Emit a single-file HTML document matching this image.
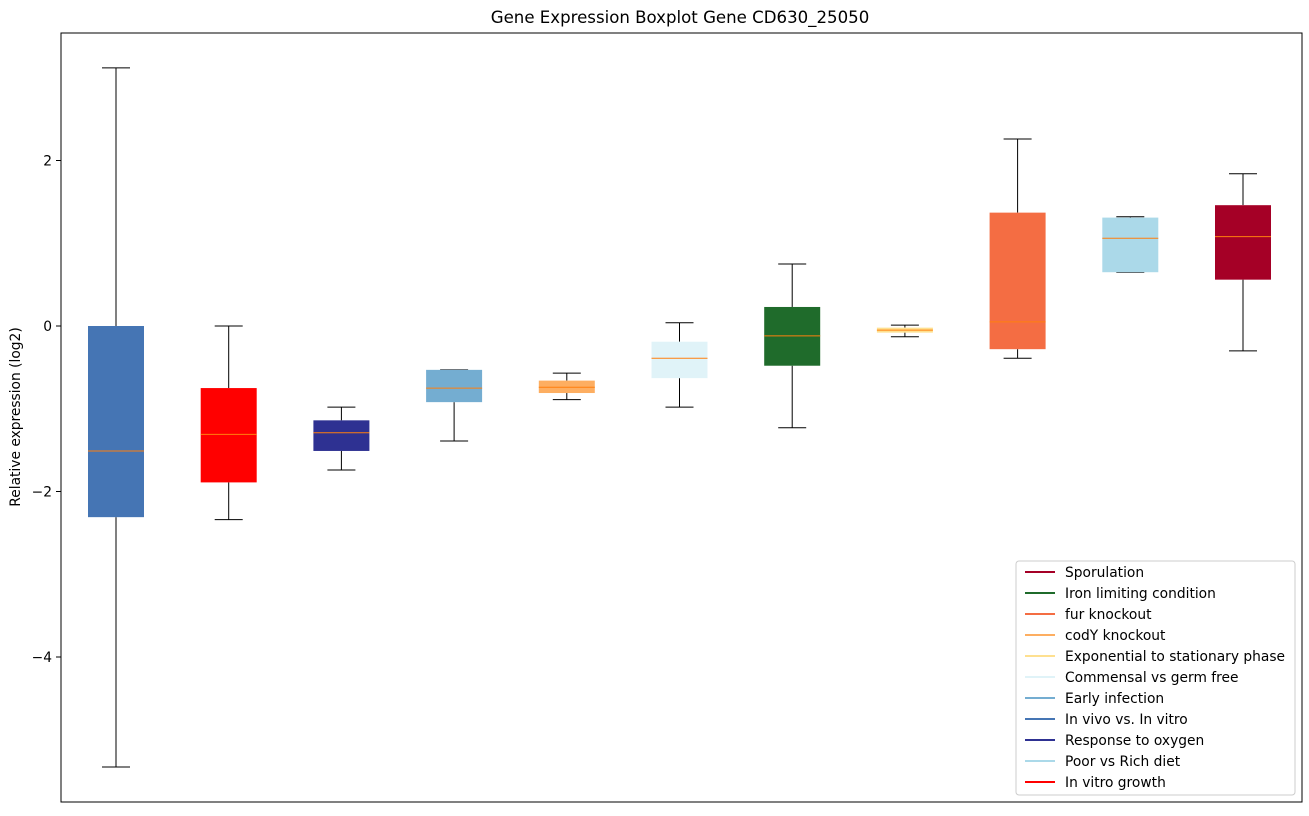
<!DOCTYPE html>
<html><head><meta charset="utf-8"><style>
body{margin:0;background:#fff;font-family:"DejaVu Sans","Liberation Sans",sans-serif;}
</style></head><body>
<svg id="chart" width="1309" height="812" xmlns="http://www.w3.org/2000/svg" font-family="DejaVu Sans, Liberation Sans, sans-serif">
<text x="680" y="23" font-size="16.6" text-anchor="middle">Gene Expression Boxplot Gene CD630_25050</text>
<text transform="translate(20,417) rotate(-90)" font-size="13.8" text-anchor="middle">Relative expression (log2)</text>
<g id="plot"></g>
<rect x="61" y="33" width="1241" height="769" fill="none" stroke="#000" stroke-width="1"/>
</svg>
<script>
const categories=["In vivo vs. In vitro","In vitro growth","Response to oxygen","Early infection","codY knockout","Commensal vs germ free","Iron limiting condition","Exponential to stationary phase","fur knockout","Poor vs Rich diet","Sporulation"];
const whiskerLow=[-5.33,-2.34,-1.74,-1.39,-0.89,-0.98,-1.23,-0.13,-0.39,0.65,-0.30];
const q1=[-2.31,-1.89,-1.51,-0.92,-0.81,-0.63,-0.48,-0.08,-0.28,0.65,0.56];
const medians=[-1.51,-1.31,-1.29,-0.75,-0.74,-0.39,-0.12,-0.05,0.05,1.06,1.08];
const q3=[0.0,-0.75,-1.14,-0.53,-0.66,-0.19,0.23,-0.02,1.37,1.31,1.46];
const whiskerHigh=[3.12,0.0,-0.98,-0.53,-0.57,0.04,0.75,0.01,2.26,1.32,1.84];
const colors=["#4575b4","#ff0000","#2e3192","#74add1","#fdae61","#e0f3f8","#1f6b2b","#fee090","#f46d43","#abd9e9","#a50026"];
const yTicks=[2,0,-2,-4];
const legendOrder=[10,6,8,4,7,5,3,0,2,9,1];
const NS="http://www.w3.org/2000/svg";
const g=document.getElementById('plot');
function y(v){return 326-v*82.75;}
function x(i){return 116+i*112.7;}
function mk(t,a){const e=document.createElementNS(NS,t);for(const k in a)e.setAttribute(k,a[k]);return e;}
yTicks.forEach(t=>{
 const l=mk('line',{x1:56,x2:61,y1:y(t),y2:y(t),stroke:'#000'});
 
 
 g.appendChild(l);
 const tx=mk('text',{x:52,y:y(t)+5,'font-size':13.8,'text-anchor':'end'});
 tx.textContent=t<0?'\u2212'+Math.abs(t):String(t);
 
 
 g.appendChild(tx);
});
categories.forEach((c,i)=>{
 const cx=x(i),w=56;
 const grp=mk('g',{});
 
 
 [[whiskerLow[i],q1[i]],[q3[i],whiskerHigh[i]]].forEach(p=>grp.appendChild(mk('line',{x1:cx,x2:cx,y1:y(p[0]),y2:y(p[1]),stroke:'#000'})));
 [whiskerLow[i],whiskerHigh[i]].forEach(v=>grp.appendChild(mk('line',{x1:cx-14,x2:cx+14,y1:y(v),y2:y(v),stroke:'#000'})));
 grp.appendChild(mk('rect',{x:cx-w/2,y:y(q3[i]),width:w,height:Math.max(1,y(q1[i])-y(q3[i])),fill:colors[i]}));
 grp.appendChild(mk('line',{x1:cx-w/2,x2:cx+w/2,y1:y(medians[i]),y2:y(medians[i]),stroke:'#ff7f0e'}));
 g.appendChild(grp);
});
const lg=mk('g',{});


lg.appendChild(mk('rect',{x:1016,y:561,width:279,height:234,rx:3,fill:'#fff',stroke:'#ccc'}));
legendOrder.forEach((idx,k)=>{
 const yy=572+k*21;
 const e=mk('g',{});
 
 
 e.appendChild(mk('line',{x1:1025,x2:1055,y1:yy,y2:yy,stroke:colors[idx],'stroke-width':2}));
 const t=mk('text',{x:1065,y:yy+5,'font-size':13.8});
 t.textContent=categories[idx];
 e.appendChild(t);
 lg.appendChild(e);
});
g.appendChild(lg);
</script>
</body></html>
